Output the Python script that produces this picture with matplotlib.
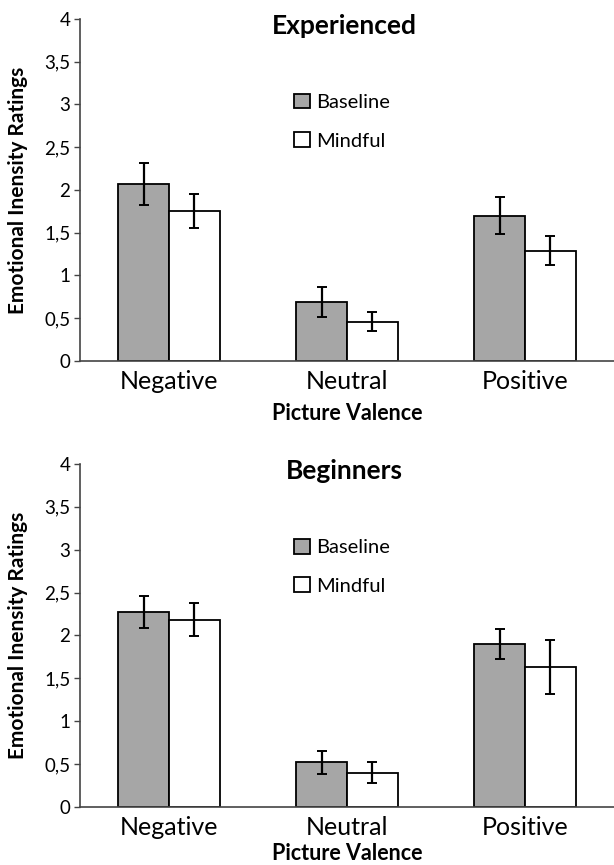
import matplotlib.pyplot as plt
import numpy as np

plt.rcParams['font.family'] = ['Lato', 'DejaVu Sans']

categories = ['Negative', 'Neutral', 'Positive']
yticks = [0, 0.5, 1, 1.5, 2, 2.5, 3, 3.5, 4]
ytick_labels = ['0', '0,5', '1', '1,5', '2', '2,5', '3', '3,5', '4']

# experienced group
exp_baseline = [2.07, 0.685, 1.70]
exp_baseline_err = [0.25, 0.175, 0.22]
exp_mindful = [1.755, 0.46, 1.29]
exp_mindful_err = [0.195, 0.115, 0.17]

# beginners group
beg_baseline = [2.275, 0.52, 1.90]
beg_baseline_err = [0.19, 0.13, 0.175]
beg_mindful = [2.185, 0.40, 1.63]
beg_mindful_err = [0.195, 0.12, 0.315]

fig = plt.figure(figsize=(6.14, 8.65), dpi=100)
ax1 = fig.add_axes([0.1303, 0.5827, 0.8697, 0.3954])
ax2 = fig.add_axes([0.1303, 0.0671, 0.8697, 0.3965])

x = np.arange(len(categories)) + 0.5
w = 0.285


def draw(ax, base, base_err, mind, mind_err, title, xpad):
    ax.bar(x - w / 2, base, w, color='#a6a6a6', edgecolor='black', linewidth=1.3,
           label='Baseline', zorder=2)
    ax.bar(x + w / 2, mind, w, color='white', edgecolor='black', linewidth=1.3,
           label='Mindful', zorder=2)
    ax.errorbar(x - w / 2, base, yerr=base_err, fmt='none', ecolor='black',
                elinewidth=1.6, capsize=3.6, capthick=1.4, zorder=3)
    ax.errorbar(x + w / 2, mind, yerr=mind_err, fmt='none', ecolor='black',
                elinewidth=1.6, capsize=3.6, capthick=1.4, zorder=3)
    ax.set_xlim(0, 3)
    ax.set_ylim(0, 4)
    ax.set_yticks(yticks)
    ax.set_yticklabels(ytick_labels, fontsize=13.5)
    ax.set_xticks(x)
    ax.set_xticklabels(categories, fontsize=18)
    ax.tick_params(axis='x', length=0, pad=6.5)
    ax.tick_params(axis='y', length=4, width=1, direction='out', pad=3,
                   color='#444444')
    for s in ['top', 'right']:
        ax.spines[s].set_visible(False)
    for s in ['left', 'bottom']:
        ax.spines[s].set_color('#444444')
        ax.spines[s].set_linewidth(1.2)
    ax.set_ylabel('Emotional Inensity Ratings', fontsize=15, fontweight='bold')
    ax.yaxis.set_label_coords(-0.097, 0.5)
    ax.set_xlabel('Picture Valence', fontsize=15.5, fontweight='bold', labelpad=xpad)
    ax.text(0.495, 0.957, title, transform=ax.transAxes, ha='center',
            va='baseline', fontsize=19, fontweight='bold')
    ax.legend(loc='center left', bbox_to_anchor=(0.4015, 0.70), frameon=False,
              fontsize=14.5, handlelength=0.75, handleheight=0.75,
              handletextpad=0.35, labelspacing=1.05, borderpad=0,
              borderaxespad=0)


draw(ax1, exp_baseline, exp_baseline_err, exp_mindful, exp_mindful_err,
     'Experienced', 7)
draw(ax2, beg_baseline, beg_baseline_err, beg_mindful, beg_mindful_err,
     'Beginners', 3)

fig.savefig('out.png', dpi=100)
